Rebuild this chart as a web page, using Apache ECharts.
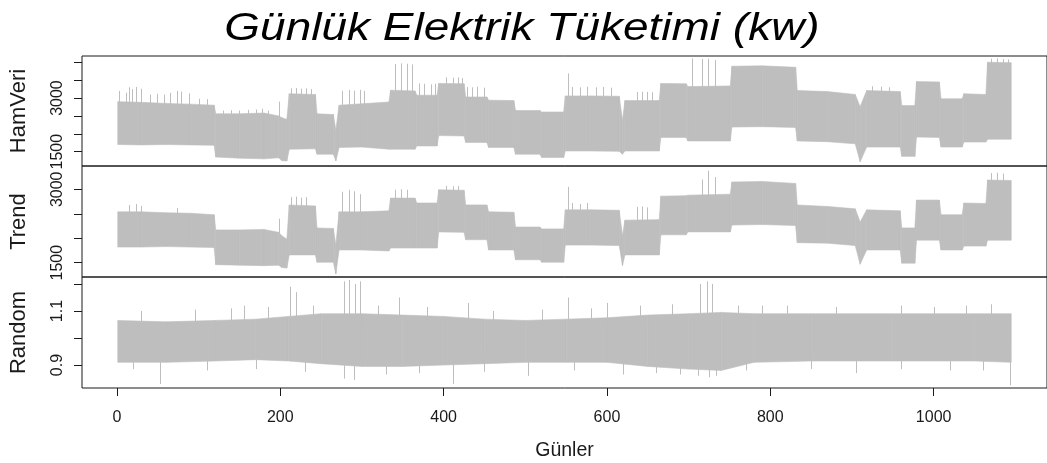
<!DOCTYPE html>
<html><head><meta charset="utf-8">
<script src="https://cdn.jsdelivr.net/npm/echarts@6/dist/echarts.min.js"></script>
<style>html,body{margin:0;padding:0;background:#fff}#c{width:1047px;height:463px}</style>
</head><body><div id="c"></div>
<script>
// ---- tick values ----
const xTicks = [0, 200, 400, 600, 800, 1000];
const hamTicks = [1500, 2000, 2500, 3000, 3500, 4000];
const hamLabels = [1500, 3000];
const trendTicks = [1500, 2000, 2500, 3000];
const trendLabels = [1500, 3000];
const randTicks = [0.9, 1.0, 1.1, 1.2];
const randLabels = [0.9, 1.1];

// ---- envelope of the daily series (day, lower edge, upper edge) ----
const bandDays = [1,30,60,90,119,121,150,180,198,202,208,211,243,245,265,268,272,300,333,335,365,367,392,394,425,427,453,455,486,488,518,520,547,549,580,615,619,622,664,666,697,699,751,753,790,831,833,870,904,910,918,959,961,977,979,1007,1009,1035,1037,1064,1066,1095];
const hamLow  = [1700,1690,1700,1690,1680,1350,1320,1300,1330,1250,1240,1570,1580,1430,1430,1240,1620,1630,1570,1570,1570,1660,1660,1950,1940,1760,1760,1620,1620,1430,1430,1340,1340,1520,1520,1510,1430,1520,1520,1900,1900,1800,1800,2190,2200,2180,1800,1780,1720,1220,1630,1630,1370,1370,1910,1900,1630,1630,1770,1770,1850,1850];
const hamHigh = [2900,2880,2850,2830,2800,2560,2560,2580,2500,2450,2400,3120,3100,2560,2540,2100,2800,2840,2890,3220,3200,3080,3080,3410,3400,3030,3030,2940,2930,2650,2650,2610,2610,3060,3060,3050,2370,2930,2930,3410,3400,3320,3340,3890,3900,3860,3210,3180,3100,2760,3210,3180,2790,2790,3460,3450,2980,2980,3120,3100,4000,3990];
const trendLow  = [1820,1820,1830,1820,1810,1460,1450,1440,1450,1400,1390,1660,1660,1510,1510,1270,1760,1760,1740,1800,1800,1800,1800,2130,2120,1970,1970,1760,1760,1560,1560,1510,1510,1860,1860,1850,1440,1660,1660,2070,2070,2130,2130,2270,2280,2260,1910,1900,1850,1470,1760,1760,1490,1490,1960,1960,1760,1760,1840,1840,1960,1960];
const trendHigh = [2540,2540,2520,2510,2480,2170,2170,2180,2120,2050,1980,2680,2660,2210,2200,1860,2540,2540,2560,2820,2820,2720,2720,2990,2980,2680,2680,2540,2530,2230,2230,2190,2190,2580,2580,2570,2050,2370,2380,2860,2870,2880,2900,3150,3160,3120,2680,2650,2600,2330,2580,2560,2210,2210,2780,2780,2480,2480,2720,2710,3190,3180];
const randDays = [1,60,120,170,210,250,300,350,400,450,500,550,600,650,700,740,780,850,950,1050,1095];
const randLow  = [0.91,0.91,0.915,0.92,0.915,0.905,0.895,0.895,0.9,0.905,0.91,0.91,0.91,0.895,0.885,0.88,0.91,0.915,0.915,0.915,0.91];
const randHigh = [1.065,1.06,1.065,1.07,1.08,1.09,1.09,1.085,1.08,1.07,1.065,1.07,1.075,1.085,1.09,1.095,1.09,1.09,1.09,1.09,1.09];

// ---- single-day peaks / dips: [day, from, to] ----
const hamSpikes = [[3,2800,3200],[11,2800,3150],[15,2800,3300],[19,2800,3250],[23,2800,3310],[29,2800,3260],[41,2800,3100],[49,2800,3120],[57,2800,3100],[65,2800,3150],[73,2800,3200],[78,2800,3180],[88,2800,3130],[100,2750,2980],[110,2750,2970],
  [130,2500,2650],[140,2500,2660],[150,2500,2650],[160,2500,2670],[170,2500,2680],[178,2500,2700],[185,2450,2650],[199,2400,2900],
  [213,3050,3270],[219,3050,3280],[225,3050,3260],[231,3050,3270],[237,3050,3250],
  [276,2750,3200],[284,2750,3230],[290,2750,3210],[298,2750,3230],[302,2750,3200],
  [341,3150,3950],[348,3150,3970],[355,3150,3960],[361,3150,3940],
  [370,3000,3410],[376,3000,3400],[384,3000,3380],[389,3000,3400],
  [403,3350,3580],[411,3350,3570],[417,3350,3580],[423,3350,3560],
  [429,2950,3310],[435,2950,3300],[441,2950,3320],[449,2950,3290],
  [552,2550,3690],[557,3000,3310],[567,3000,3300],[575,3000,3320],[587,3000,3300],[595,3000,3310],[605,3000,3290],
  [637,2850,3170],[643,2850,3180],[649,2850,3170],[655,2850,3160],
  [704,3300,4110],[716,3300,4090],[724,3300,4100],[732,3300,4060],
  [925,3150,3330],[935,3150,3320],[945,3150,3300],
  [1070,3950,4100],[1077,3950,4110],[1085,3950,4090],[1091,3950,4080]];
const trendSpikes = [[15,2500,2680],[23,2500,2700],[29,2500,2660],[73,2450,2620],[199,2100,2400],
  [213,2600,2840],[219,2600,2850],[225,2600,2830],[231,2600,2840],
  [276,2500,2950],[284,2500,2990],[290,2500,2960],[298,2500,2900],
  [341,2800,2990],[348,2800,3000],[355,2800,2990],
  [403,2950,3070],[411,2950,3060],[417,2950,3070],
  [552,2150,3050],[557,2550,2720],[567,2550,2700],[575,2550,2720],
  [637,2350,2640],[643,2350,2650],[649,2350,2630],
  [716,2850,3200],[724,2850,3380],[732,2850,3250],
  [1070,3150,3330],[1077,3150,3340],[1085,3150,3320]];
const randSpikes = [[212,1.05,1.19],[219,1.05,1.17],[278,1.05,1.21],[284,1.05,1.215],[291,1.05,1.2],[297,1.05,1.21],
  [714,1.05,1.2],[722,1.05,1.21],[729,1.05,1.2],[345,1.05,1.15],[552,1.05,1.15],[155,1.05,1.12],[430,1.05,1.13],
  [600,1.05,1.13],[790,1.05,1.12],[1040,1.05,1.12],
  [30,1.05,1.1],[95,1.05,1.105],[140,1.05,1.11],[185,1.05,1.115],[240,1.05,1.12],[320,1.05,1.12],[380,1.05,1.115],
  [460,1.05,1.1],[520,1.05,1.105],[580,1.05,1.11],[640,1.05,1.12],[680,1.05,1.125],[760,1.05,1.12],[820,1.05,1.12],
  [880,1.05,1.115],[960,1.05,1.12],[1000,1.05,1.115],[1070,1.05,1.125],
  [53,0.95,0.83],[278,0.95,0.85],[290,0.95,0.845],[412,0.95,0.83],[503,0.95,0.86],[712,0.95,0.86],[725,0.95,0.855],
  [733,0.95,0.86],[1094,0.95,0.825],[905,0.95,0.87],[620,0.95,0.865],
  [20,0.95,0.885],[110,0.95,0.88],[170,0.95,0.885],[230,0.95,0.875],[330,0.95,0.865],[370,0.95,0.87],[450,0.95,0.875],
  [560,0.95,0.88],[660,0.95,0.87],[690,0.95,0.865],[770,0.95,0.88],[850,0.95,0.885],[960,0.95,0.885],[1020,0.95,0.88],[1060,0.95,0.88]];

const GRAY = '#bebebe';
const FONT = 'Liberation Sans, Arial, sans-serif';
const INK = '#1a1a1a';
const plain = v => String(v);

function bandSeries(idx, days, low, high) {
  return {
    type: 'custom', xAxisIndex: idx, yAxisIndex: idx, clip: true, silent: true,
    data: days.map((d, i) => [d, low[i], high[i]]),
    encode: { x: 0, y: [1, 2] },
    renderItem: function (params, api) {
      const i = params.dataIndex;
      if (i >= days.length - 1) return null;
      const pts = [
        api.coord([days[i], low[i]]), api.coord([days[i + 1], low[i + 1]]),
        api.coord([days[i + 1], high[i + 1]]), api.coord([days[i], high[i]])
      ];
      return { type: 'polygon', shape: { points: pts }, style: { fill: GRAY, stroke: GRAY, lineWidth: 0.6 } };
    }
  };
}
function spikeSeries(idx, spikes) {
  return {
    type: 'custom', xAxisIndex: idx, yAxisIndex: idx, clip: true, silent: true,
    data: spikes, encode: { x: 0, y: [1, 2] },
    renderItem: function (params, api) {
      const a = api.coord([api.value(0), api.value(1)]);
      const b = api.coord([api.value(0), api.value(2)]);
      const x = Math.round(a[0]) + 0.5;
      return { type: 'line', shape: { x1: x, y1: a[1], x2: x, y2: b[1] }, style: { stroke: GRAY, lineWidth: 1 } };
    }
  };
}

const grids = [
  { left: 82, width: 970, top: 56, height: 110 },
  { left: 82, width: 970, top: 166, height: 111 },
  { left: 82, width: 970, top: 277, height: 111 }
].map(g => Object.assign(g, { show: true, borderColor: INK, borderWidth: 1, backgroundColor: 'transparent', containLabel: false }));

function xAx(i) {
  const base = { type: 'value', gridIndex: i, min: -42.8, max: 1138.8, splitLine: { show: false } };
  if (i < 2) return Object.assign(base, { show: false });
  return Object.assign(base, {
    axisLine: { show: false, onZero: false },
    axisTick: { show: true, length: 8, customValues: xTicks, lineStyle: { color: INK } },
    axisLabel: { customValues: xTicks, fontSize: 16, color: INK, fontFamily: FONT, margin: 22, formatter: plain },
    name: 'Günler', nameLocation: 'middle', nameGap: 53,
    nameTextStyle: { fontSize: 19.5, color: INK, fontFamily: FONT }
  });
}
function yAx(i, min, max, ticks, labels, name) {
  return {
    type: 'value', gridIndex: i, min: min, max: max, splitLine: { show: false },
    axisLine: { show: false, onZero: false },
    axisTick: { show: true, length: 8, customValues: ticks, lineStyle: { color: INK } },
    axisLabel: { customValues: labels, rotate: 90, fontSize: 16, color: INK, fontFamily: FONT, margin: 16, formatter: plain },
    name: name, nameLocation: 'middle', nameRotate: 90, nameGap: 52,
    nameTextStyle: { fontSize: 22, color: INK, fontFamily: FONT }
  };
}

const chart = echarts.init(document.getElementById('c'), null, { renderer: 'canvas' });
chart.setOption({
  animation: false,
  backgroundColor: '#fff',
  graphic: [{
    type: 'text', x: 522, y: 29, scaleX: 1.21, silent: true,
    style: { text: 'Günlük Elektrik Tüketimi (kw)', fontSize: 38, fontStyle: 'italic', fontFamily: FONT,
      fill: '#000', align: 'center', verticalAlign: 'middle' }
  }],
  grid: grids,
  xAxis: [xAx(0), xAx(1), xAx(2)],
  yAxis: [
    yAx(0, 1100, 4176, hamTicks, hamLabels, 'HamVeri'),
    yAx(1, 1208, 3476, trendTicks, trendLabels, 'Trend'),
    yAx(2, 0.815, 1.226, randTicks, randLabels, 'Random')
  ],
  series: [
    bandSeries(0, bandDays, hamLow, hamHigh), spikeSeries(0, hamSpikes),
    bandSeries(1, bandDays, trendLow, trendHigh), spikeSeries(1, trendSpikes),
    bandSeries(2, randDays, randLow, randHigh), spikeSeries(2, randSpikes)
  ]
});
</script></body></html>
